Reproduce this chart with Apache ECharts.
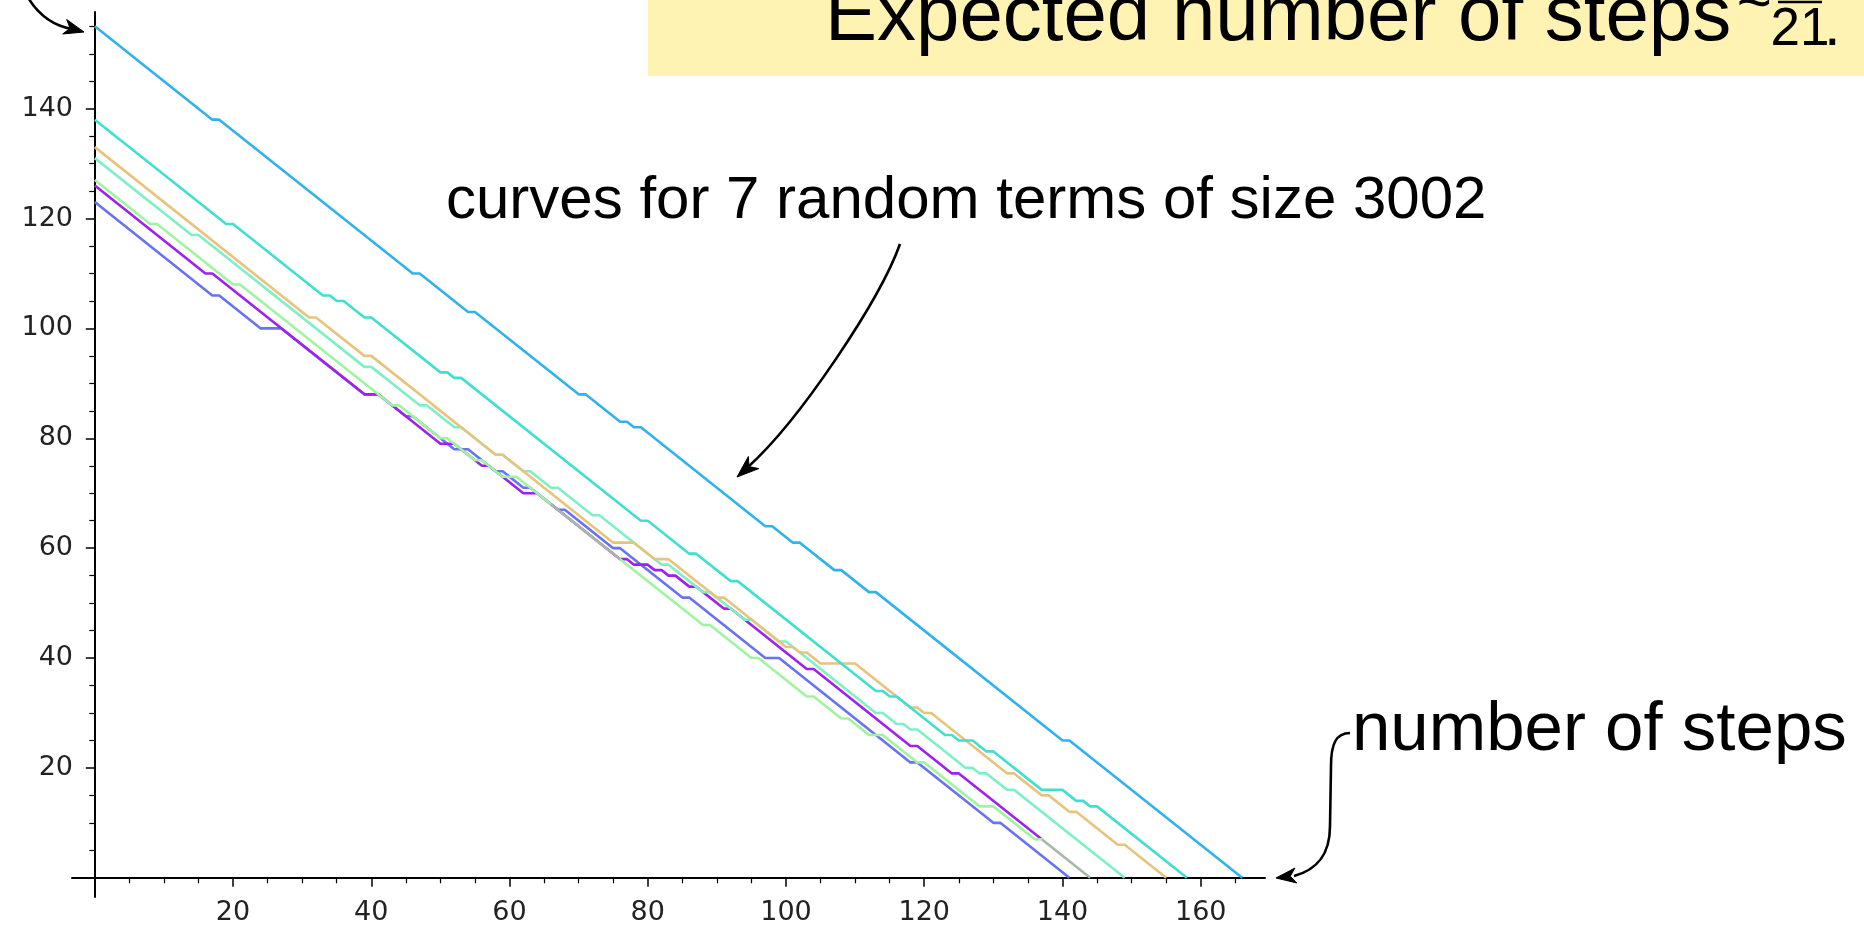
<!DOCTYPE html>
<html><head><meta charset="utf-8">
<script src="https://cdn.jsdelivr.net/npm/echarts@6/dist/echarts.min.js"></script>
<style>html,body{margin:0;padding:0;background:#fff}#c{width:1864px;height:925px}</style>
</head><body><div id="c"></div>
<script>
// ---- tick values ----
const xMajorTicks = [20, 40, 60, 80, 100, 120, 140, 160];
const xMinorTicks = [5, 10, 15, 25, 30, 35, 45, 50, 55, 65, 70, 75, 85, 90, 95, 105, 110, 115, 125, 130, 135, 145, 150, 155, 165];
const yMajorTicks = [20, 40, 60, 80, 100, 120, 140];
const yMinorTicks = [5, 10, 15, 25, 30, 35, 45, 50, 55, 65, 70, 75, 85, 90, 95, 105, 110, 115, 125, 130, 135, 145, 150, 155];

// ---- curves (vertices: [step, remaining]) ----
const curveSkyBlue = [[0,155],[17,138],[18,138],[46,110],[47,110],[54,103],[55,103],[70,88],[71,88],[76,83],[77,83],[78,82],[79,82],[97,64],[98,64],[101,61],[102,61],[107,56],[108,56],[112,52],[113,52],[140,25],[141,25],[166,0]];
const curveTurquoise = [[0,138],[19,119],[20,119],[33,106],[34,106],[35,105],[36,105],[39,102],[40,102],[50,92],[51,92],[52,91],[53,91],[79,65],[80,65],[86,59],[87,59],[92,54],[93,54],[113,34],[114,34],[115,33],[116,33],[123,26],[124,26],[125,25],[127,25],[129,23],[130,23],[137,16],[140,16],[142,14],[143,14],[144,13],[145,13],[158,0]];
const curveTan = [[0,133],[31,102],[32,102],[39,95],[40,95],[58,77],[59,77],[75,61],[78,61],[81,58],[83,58],[90,51],[91,51],[100,42],[101,42],[102,41],[103,41],[105,39],[110,39],[118,31],[119,31],[120,30],[121,30],[132,19],[133,19],[137,15],[138,15],[141,12],[142,12],[148,6],[149,6],[155,0]];
const curveAquamarine = [[0,131],[14,117],[15,117],[39,93],[40,93],[47,86],[48,86],[52,82],[53,82],[58,77],[59,77],[62,74],[63,74],[66,71],[67,71],[72,66],[73,66],[82,57],[83,57],[88,52],[89,52],[94,47],[95,47],[99,43],[100,43],[113,30],[114,30],[116,28],[117,28],[118,27],[119,27],[126,20],[127,20],[128,19],[129,19],[132,16],[133,16],[149,0]];
const curvePaleGreen = [[0,127],[8,119],[9,119],[20,108],[21,108],[43,86],[44,86],[50,80],[51,80],[55,76],[56,76],[59,73],[61,73],[76,58],[88,46],[89,46],[95,40],[96,40],[103,33],[104,33],[108,29],[109,29],[112,26],[114,26],[119,21],[120,21],[128,13],[130,13],[136,7],[137,7],[144,0]];
const curvePurple = [[0,126],[16,110],[17,110],[39,88],[41,88],[50,79],[52,79],[56,75],[57,75],[62,70],[64,70],[76,58],[77,58],[78,57],[80,57],[81,56],[82,56],[83,55],[84,55],[86,53],[87,53],[91,49],[92,49],[102,39],[103,38],[104,38],[118,24],[119,24],[124,19],[125,19],[137,7]];
const curveSlateBlue = [[0,123],[17,106],[18,106],[24,100],[27,100],[34,93],[39,88],[41,88],[45,84],[46,84],[52,78],[54,78],[58,74],[59,74],[62,71],[63,71],[67,67],[68,67],[75,60],[76,60],[85,51],[86,51],[94,43],[97,40],[99,40],[102,37],[118,21],[119,21],[130,10],[131,10],[141,0]];
// stretches where the pale-green curve runs on top of the purple one (drawn greyish there)
const sharedStretches = [[66, 76], [137, 144]];

const curves = [
  {data: curveSlateBlue, color: '#6872f4'},
  {data: curvePurple, color: '#a020f0'},
  {data: curvePaleGreen, color: '#9ff49f'},
  {data: curveAquamarine, color: '#7ff0c6'},
  {data: curveTan, color: '#e6c47c'},
  {data: curveTurquoise, color: '#40dfd0'},
  {data: curveSkyBlue, color: '#30b2ef'}
];

const chart = echarts.init(document.getElementById('c'), null, {renderer: 'canvas'});
const X_MIN = -3.3, X_MAX = 169.3, Y_MIN = -3.5, Y_MAX = 157.6;
const labelFont = {fontFamily: 'DejaVu Sans', fontSize: 27, color: '#222'};

const option = {
  animation: false,
  backgroundColor: '#fff',
  grid: {left: 72, right: 599, top: 12, bottom: 28, containLabel: false, outerBoundsMode: 'none'},
  visualMap: [{
    type: 'piecewise', show: false, seriesIndex: 2, dimension: 0,
    pieces: sharedStretches.map(function (s) { return {gte: s[0], lte: s[1], color: '#a6b9a8'}; }),
    outOfRange: {color: '#9ff49f'}
  }],
  xAxis: [
    {type: 'value', min: X_MIN, max: X_MAX,
     axisLine: {show: true, onZero: true, lineStyle: {color: '#000', width: 2}},
     axisTick: {show: true, customValues: xMajorTicks, length: 9, lineStyle: {color: '#000', width: 1.5}},
     axisLabel: Object.assign({show: true, customValues: xMajorTicks, margin: 2}, labelFont),
     splitLine: {show: false}},
    {type: 'value', min: X_MIN, max: X_MAX, position: 'bottom',
     axisLine: {show: false, onZero: true},
     axisTick: {show: true, customValues: xMinorTicks, length: 5.5, lineStyle: {color: '#000', width: 1.2}},
     axisLabel: {show: false}, splitLine: {show: false}}
  ],
  yAxis: [
    {type: 'value', min: Y_MIN, max: Y_MAX,
     axisLine: {show: true, onZero: true, lineStyle: {color: '#000', width: 2}},
     axisTick: {show: true, customValues: yMajorTicks, length: 9, lineStyle: {color: '#000', width: 1.5}},
     axisLabel: Object.assign({show: true, customValues: yMajorTicks, margin: -1}, labelFont),
     splitLine: {show: false}},
    {type: 'value', min: Y_MIN, max: Y_MAX, position: 'left',
     axisLine: {show: false, onZero: true},
     axisTick: {show: true, customValues: yMinorTicks, length: 5.5, lineStyle: {color: '#000', width: 1.2}},
     axisLabel: {show: false}, splitLine: {show: false}}
  ],
  series: curves.map(function (c, i) {
    const s = {type: 'line', xAxisIndex: 0, yAxisIndex: 0, data: c.data, showSymbol: false, symbol: 'none',
      lineStyle: {width: 2.6}, z: 2 + i, silent: true};
    if (i !== 2) { s.lineStyle.color = c.color; s.itemStyle = {color: c.color}; }
    return s;
  })
};
chart.setOption(option);

// ---- annotations ----
function head(tip, from, len, w) {
  const dx = tip[0] - from[0], dy = tip[1] - from[1];
  const L = Math.hypot(dx, dy); const ux = dx / L, uy = dy / L; const nx = -uy, ny = ux;
  const bx = tip[0] - ux * len, by = tip[1] - uy * len;
  return {type: 'polygon', z: 100, shape: {points: [tip, [bx + nx * w, by + ny * w], [tip[0] - ux * len * 0.72, tip[1] - uy * len * 0.72], [bx - nx * w, by - ny * w]]},
    style: {fill: '#000', stroke: '#000', lineWidth: 1}};
}
const stroke = {stroke: '#000', lineWidth: 2.6, fill: null};
const textFont = 'Liberation Sans';
const graphics = [
  {type: 'rect', z: 1, shape: {x: 648, y: -10, width: 1230, height: 86}, style: {fill: '#fff3b3'}},
  {type: 'text', z: 101, x: 825, y: 57, style: {text: 'Expected number of steps', font: '78px "' + textFont + '"', fill: '#000', verticalAlign: 'bottom', align: 'left'}},
  {type: 'text', z: 101, x: 1738, y: -1, style: {text: '\u2248', font: '60px "' + textFont + '"', fill: '#000', verticalAlign: 'middle', align: 'left'}},
  {type: 'line', z: 101, shape: {x1: 1778, y1: 2, x2: 1822, y2: 2}, style: {stroke: '#000', lineWidth: 2.5}},
  {type: 'text', z: 101, x: 1800, y: 30, style: {text: '21', font: '53px "' + textFont + '"', fill: '#000', align: 'center', verticalAlign: 'middle'}},
  {type: 'text', z: 101, x: 1824, y: 28, style: {text: '.', font: '60px "' + textFont + '"', fill: '#000', align: 'left', verticalAlign: 'middle'}},
  {type: 'text', z: 101, x: 446, y: 201, style: {text: 'curves for 7 random terms of size 3002', font: '60px "' + textFont + '"', fill: '#000', align: 'left', verticalAlign: 'middle'}},
  {type: 'text', z: 101, x: 1352, y: 731, style: {text: 'number of steps', font: '69px "' + textFont + '"', fill: '#000', align: 'left', verticalAlign: 'middle'}},
  // curved arrow from the caption to the curves
  {type: 'bezierCurve', z: 100, shape: {x1: 900, y1: 244, cpx1: 880, cpy1: 300, cpx2: 800, cpy2: 420, x2: 748, y2: 467}, style: stroke},
  head([737, 477], [760, 457], 22, 8),
  // top-left arrow
  {type: 'bezierCurve', z: 100, shape: {x1: 26, y1: -6, cpx1: 38, cpy1: 16, cpx2: 55, cpy2: 26, x2: 72, y2: 29}, style: stroke},
  head([84, 32], [62, 26], 20, 7.5),
  // number-of-steps arrow
  {type: 'bezierCurve', z: 100, shape: {x1: 1350, y1: 733, cpx1: 1336, cpy1: 733, cpx2: 1331, cpy2: 744, x2: 1331, y2: 766}, style: stroke},
  {type: 'line', z: 100, shape: {x1: 1331, y1: 766, x2: 1330, y2: 826}, style: stroke},
  {type: 'bezierCurve', z: 100, shape: {x1: 1330, y1: 826, cpx1: 1330, cpy1: 856, cpx2: 1316, cpy2: 870, x2: 1294, y2: 876}, style: stroke},
  head([1276, 878], [1300, 875], 20, 7.5)
];
chart.setOption({graphic: graphics});
</script></body></html>
